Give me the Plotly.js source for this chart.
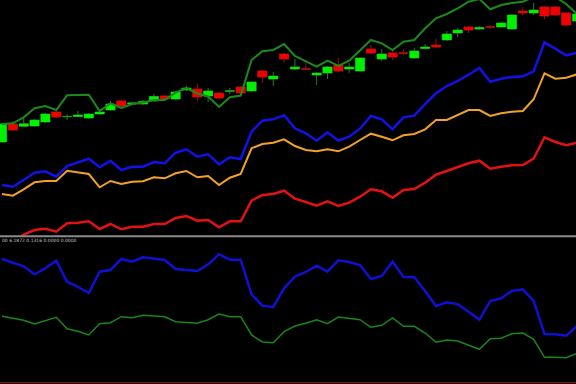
<!DOCTYPE html>
<html><head><meta charset="utf-8">
<script src="https://cdn.plot.ly/plotly-3.0.1.min.js"></script>
<style>html,body{margin:0;padding:0;background:#000;}#chart{width:576px;height:384px;}</style>
</head><body><div id="chart"></div>
<script>
// candle data (price levels, arbitrary units)
const openP  = [94,112,109.7,110,114,124,119.2,119.5,118,122,126,135,132,132,135,140,137,146,147,140,143,144.8,149,145,165,157,182,167,167.2,161,163,171,167,165,187,177,183,183.2,178,187.5,191,196,203,209,207,209.2,209,207,225,223,229,229,223,215];
const highP  = [113,115,119,117,123,125,122,125,123,125,135,136,134.5,136,142,141,145,150,152.5,148,144,148,150,155,166,164,183,177,173,164,170,178,173,179,191,187,185,187,188,192,197,205,208,210,210,211,214,222,229,233,230,230,224,223];
const lowP   = [93,105,109,109,113,118,116,119,117,121,125,129,131,131,134,136,136,145,135,134,137,142,142,144,153,150,173,166,166,151,157,164,163,164,182,175,176,181,177,186.5,188,195,199,203,206,207,208,206,221,221,217,220,209,214];
const closeP = [112,106,112.3,116,122,119,119.6,121,122,124,132,130,133,134.5,139.5,137,144,148,139,145,138,145.2,143,154,159,160,177,169,166.8,163,169,165,169,178,183,182,179,182.8,185,189,189,202,206,206,208.5,208.8,213,221,223,226,220,221,211,222];
// overlay lines on price panel
const upperBand = [112,112.7,118.7,127.7,130,126,140.7,141,141.3,125,132.7,128,132,133.5,136,136,143.3,148,142.5,139.5,129,138.7,140.4,176,184.7,186,192,180,174.7,169.3,175.3,170,175.3,186,196,192.7,186,194.3,196,207.7,217.7,222,227.7,234.3,237,226.7,231,233,234.3,239,241,239,232,222];
const blueTop   = [51,49.3,56,63.3,64.7,59.3,70,73.3,77.3,68.7,75.3,66,69.3,69.3,74,72.7,83.3,86.7,79.3,81.7,71.7,78.7,77,104.3,115.3,116.7,120.7,107.7,102.7,95.3,103.7,95.3,99.3,107.3,120,116.7,106.7,118.7,120.3,132,142.7,150,155,161.3,168,154.3,157.3,159,159.7,164.7,193.7,187.3,180.7,183.3];
const orangeTop = [42,40.3,46.7,53.7,55,55,65.3,63.7,62,48.7,55,52,54.3,54.7,58.7,57.7,62.7,65,58.7,60,51,58.3,62,87.7,92,93.3,96.7,90,86,84.7,86.7,84.7,89.3,96,102.3,99.3,95.7,100.7,102,106.7,116,116,120.7,126,126,120,122.7,124.3,125,136.7,162.7,157.3,158.3,161.7];
const redTop    = [-12,-7,1.5,6,7.3,4.3,12.7,13.3,14.7,7,12,6.7,9.3,9.3,12,12,18,20,15.3,16,8.7,14.7,14.7,35.3,41,42,45.3,37.3,34,30.3,34.7,30,33.3,39.3,46.7,44.7,38.3,46,47,53.3,61.3,65,69.3,72.7,75.3,67.3,69.3,70.7,71,77.3,98.7,94,90.7,93.3];
// indicator panel
const blueLow  = [125,121.3,117.7,109.7,115.7,123.3,102.3,97,91,112.3,114,125,122.3,126.7,125.7,124,115,114,113,119.7,129.7,124.3,124.3,89.7,78.3,77,95.7,107.3,112,118.3,112.3,123.7,122,119,105,108,122.3,107,106.7,93,78,81.7,79.7,72.3,64.3,83,85.7,93,94.7,83,50,49.7,48.3,58];
const greenLow = [67.7,65.7,63.7,60,63,66.7,55.3,52.7,49,60.3,61.3,67.3,66.3,68.7,68,67.3,62.3,61.7,60.7,64.3,70,67.3,67.3,49,42,41.3,52.3,58,60.7,64.3,60.3,67,65.7,64.3,56.7,58.7,66,57.7,57.7,51,41.7,44,43,39,34.7,45.3,45.7,50.3,51,44.7,26.7,26.7,26.3,30.7];
const indicatorLabel = "00 6.1872 0.1316 0.0000 0.0000";

const xs = openP.map((_, i) => i + 1);
const bodyHigh = openP.map((o, i) => Math.max(o, closeP[i]));
const bodyLow  = openP.map((o, i) => Math.min(o, closeP[i]));

const traces = [
  {type:'candlestick', x:xs, open:openP, high:highP, low:lowP, close:closeP, xaxis:'x', yaxis:'y',
   increasing:{line:{color:'#1f7f1f', width:1}, fillcolor:'#1f7f1f'},
   decreasing:{line:{color:'#8e1212', width:1}, fillcolor:'#8e1212'},
   whiskerwidth:0, hoverinfo:'skip', showlegend:false},
  {type:'candlestick', x:xs, open:openP, high:bodyHigh, low:bodyLow, close:closeP, xaxis:'x', yaxis:'y',
   increasing:{line:{color:'#00f000', width:0}, fillcolor:'#00f000'},
   decreasing:{line:{color:'#f00000', width:0}, fillcolor:'#f00000'},
   whiskerwidth:0, hoverinfo:'skip', showlegend:false},
  {type:'scatter', mode:'lines', x:xs, y:upperBand, line:{color:'#1b8a1b', width:2}, xaxis:'x', yaxis:'y', hoverinfo:'skip'},
  {type:'scatter', mode:'lines', x:xs, y:blueTop, line:{color:'#1212e6', width:2.5}, xaxis:'x', yaxis:'y', hoverinfo:'skip'},
  {type:'scatter', mode:'lines', x:xs, y:orangeTop, line:{color:'#f2a326', width:2}, xaxis:'x', yaxis:'y', hoverinfo:'skip'},
  {type:'scatter', mode:'lines', x:xs, y:redTop, line:{color:'#e31212', width:2.5}, xaxis:'x', yaxis:'y', hoverinfo:'skip'},
  {type:'scatter', mode:'lines', x:xs, y:blueLow, line:{color:'#1010d2', width:2.5}, xaxis:'x', yaxis:'y2', hoverinfo:'skip'},
  {type:'scatter', mode:'lines', x:xs, y:greenLow, line:{color:'#1a861a', width:1.5}, xaxis:'x', yaxis:'y2', hoverinfo:'skip'}
];

const hidden = {visible:false, showgrid:false, zeroline:false, showticklabels:false, fixedrange:true};
const layout = {
  width:576, height:384,
  margin:{l:0, r:0, t:0, b:0, pad:0},
  paper_bgcolor:'#000000', plot_bgcolor:'#000000',
  showlegend:false,
  boxgap:0.15, boxgroupgap:0,
  xaxis:Object.assign({}, hidden, {range:[0.816, 53.903], rangeslider:{visible:false}, anchor:'y2'}),
  yaxis:Object.assign({}, hidden, {domain:[0.38542, 1], range:[0, 236], anchor:'x'}),
  yaxis2:Object.assign({}, hidden, {domain:[0, 0.38281], range:[0, 147], anchor:'x'}),
  shapes:[
    {type:'line', xref:'paper', yref:'paper', x0:0, x1:1, y0:0.3846, y1:0.3846, line:{color:'#8a8a8a', width:2}},
    {type:'line', xref:'paper', yref:'paper', x0:0, x1:1, y0:0.0035, y1:0.0035, line:{color:'#7a1414', width:1.2}}
  ],
  annotations:[
    {text:indicatorLabel, xref:'paper', yref:'paper', x:0, y:0.3737, xanchor:'left', yanchor:'middle',
     showarrow:false, font:{family:'DejaVu Sans', size:4.5, color:'#c8c8c8'}}
  ]
};
Plotly.newPlot('chart', traces, layout, {staticPlot:true, displayModeBar:false});
</script>
</body></html>
